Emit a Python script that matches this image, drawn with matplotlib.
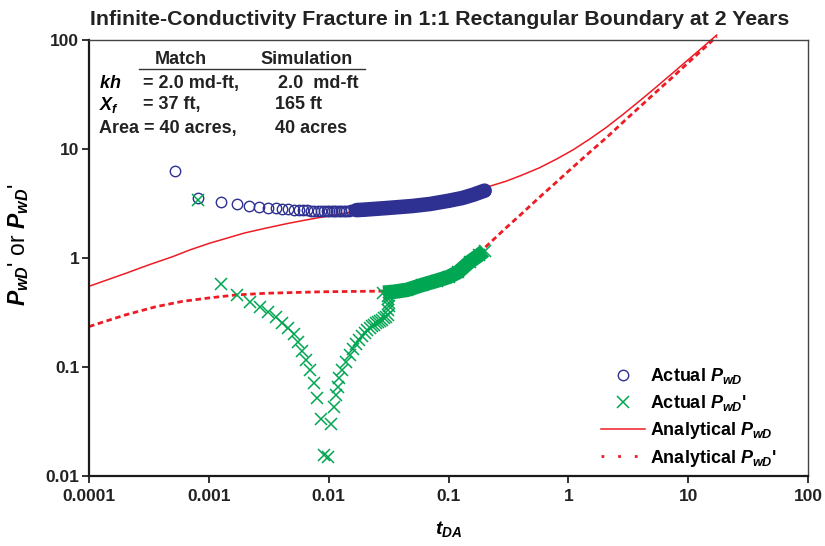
import matplotlib
matplotlib.use("Agg")
import matplotlib.pyplot as plt
from matplotlib.lines import Line2D

plt.rcParams['font.family'] = ['Liberation Sans', 'DejaVu Sans']
plt.rcParams['font.weight'] = 'bold'
plt.rcParams['mathtext.fontset'] = 'custom'
plt.rcParams['mathtext.it'] = 'Liberation Sans:bold:italic'
plt.rcParams['mathtext.rm'] = 'Liberation Sans:bold'
plt.rcParams['mathtext.bf'] = 'Liberation Sans:bold'

NAVY = '#2e3192'
GREEN = '#00a651'
RED = '#ed1c24'

# Actual PwD - individual circles
t_pwd = [5.2e-4, 8.1e-4, 1.27e-3, 1.72e-3, 2.18e-3, 2.64e-3, 3.1e-3, 3.6e-3, 4.1e-3,
         4.6e-3, 5.1e-3, 5.6e-3, 6.1e-3, 6.6e-3, 7.1e-3, 7.6e-3, 8.1e-3, 8.6e-3, 9.1e-3,
         9.6e-3, 0.0101, 0.0106, 0.0111, 0.0116, 0.0121, 0.0127, 0.0133, 0.0140,
         0.0147, 0.0155, 0.0163, 0.0171]
p_pwd = [6.3, 3.55, 3.29, 3.13, 3.02, 2.95, 2.89, 2.85, 2.82,
         2.79, 2.77, 2.75, 2.74, 2.73, 2.72, 2.71, 2.70, 2.70, 2.69,
         2.69, 2.69, 2.69, 2.70, 2.70, 2.70, 2.71, 2.71, 2.72,
         2.72, 2.73, 2.74, 2.75]
# Actual PwD - dense part (merged band)
t_pwd_band = [0.0171, 0.02, 0.03, 0.05, 0.07, 0.1, 0.13, 0.16, 0.2]
p_pwd_band = [2.75, 2.78, 2.87, 3.0, 3.13, 3.35, 3.55, 3.8, 4.15]

# Actual PwD' - individual crosses
t_dpwd = [8.1e-4, 1.26e-3, 1.72e-3, 2.2e-3, 2.65e-3, 3.13e-3, 3.6e-3, 4.1e-3, 4.56e-3,
          5.1e-3, 5.5e-3, 6.0e-3, 6.5e-3, 7.0e-3, 7.5e-3, 8.0e-3, 8.6e-3, 9.1e-3,
          9.88e-3, 0.0105, 0.0110, 0.0116, 0.0120, 0.0123, 0.0130,
          0.014, 0.015, 0.016, 0.017, 0.018, 0.019, 0.020, 0.021, 0.022, 0.023,
          0.024, 0.025, 0.026, 0.027, 0.028, 0.029, 0.030, 0.031,
          0.0315, 0.0318, 0.0318, 0.0315, 0.031]
p_dpwd = [3.4, 0.577, 0.458, 0.393, 0.358, 0.321, 0.286, 0.255, 0.226,
          0.201, 0.171, 0.141, 0.116, 0.094, 0.0718, 0.0523, 0.0333, 0.0156,
          0.0150, 0.030, 0.0433, 0.0553, 0.0659, 0.0787, 0.094,
          0.112, 0.128, 0.145, 0.162, 0.178, 0.193, 0.207, 0.218, 0.228, 0.236,
          0.244, 0.251, 0.258, 0.264, 0.272, 0.28, 0.29, 0.30,
          0.33, 0.36, 0.39, 0.42, 0.45]
# Actual PwD' - dense part (merged band)
t_dpwd_band = [0.0285, 0.035, 0.045, 0.06, 0.08, 0.1, 0.12, 0.15, 0.18, 0.2]
p_dpwd_band = [0.48, 0.49, 0.51, 0.565, 0.62, 0.67, 0.74, 0.92, 1.06, 1.16]

# Analytical PwD
t_an = [1e-4, 2e-4, 3.2e-4, 5e-4, 7e-4, 1e-3, 1.5e-3, 2e-3, 3e-3, 4.6e-3, 7e-3, 0.01,
        0.02, 0.04, 0.07, 0.1, 0.15, 0.22, 0.3, 0.4, 0.57, 0.8, 1.09, 1.5, 2.06, 2.8,
        3.9, 5.3, 7.4, 10.0, 13.0, 15.0, 17.3]
p_an = [0.55, 0.72, 0.87, 1.03, 1.19, 1.36, 1.55, 1.70, 1.88, 2.08, 2.27, 2.43,
        2.78, 3.14, 3.47, 3.73, 4.1, 4.55, 5.05, 5.7, 6.7, 8.1, 9.8, 12.3, 15.7, 20.4,
        27.4, 36.3, 49.6, 66.0, 84.5, 97.0, 111.0]

# Analytical PwD'
t_an_d = [1e-4, 2e-4, 3.6e-4, 6e-4, 1e-3, 1.67e-3, 3e-3, 8.8e-3, 0.0278, 0.04, 0.07,
          0.1, 0.15, 0.205, 0.3, 0.4, 0.573, 0.8, 1.0, 1.5, 2.06, 3.0, 4.0, 5.5, 7.4,
          10.0, 15.0, 17.3]
p_an_d = [0.235, 0.30, 0.357, 0.40, 0.43, 0.458, 0.475, 0.49, 0.497, 0.50, 0.59,
          0.70, 0.93, 1.27, 1.88, 2.5, 3.6, 5.0, 6.25, 9.3, 12.6, 18.5, 24.7, 34.0, 45.5,
          62.0, 93.0, 108.0]

x_ticks = [0.0001, 0.001, 0.01, 0.1, 1, 10, 100]
x_labels = ['0.0001', '0.001', '0.01', '0.1', '1', '10', '100']
y_ticks = [0.01, 0.1, 1, 10, 100]
y_labels = ['0.01', '0.1', '1', '10', '100']

fig = plt.figure(figsize=(8.25, 5.46), dpi=100)
ax = fig.add_axes([0.1079, 0.1282, 0.8715, 0.7985])
ax.set_xscale('log')
ax.set_yscale('log')
ax.set_xlim(1e-4, 100)
ax.set_ylim(0.01, 100)

# analytical curves underneath the data
ax.plot(t_an, p_an, color=RED, lw=1.1, clip_on=False, zorder=2)
ax.plot(t_an_d, p_an_d, color=RED, lw=2.0, linestyle=(0, (2, 1.3)), clip_on=False, zorder=2)

# actual PwD
ax.plot(t_pwd_band, p_pwd_band, color=NAVY, lw=10.5, solid_capstyle='round', zorder=3)
ax.plot(t_pwd, p_pwd, linestyle='none', marker='o', ms=7.5, mfc='none', mec=NAVY, mew=1.0, zorder=3)
ax.plot(t_pwd_band, p_pwd_band, linestyle='none', marker='o', ms=7.5, mfc='none', mec=NAVY, mew=1.0, zorder=3)

# actual PwD'
ax.plot(t_dpwd_band, p_dpwd_band, color=GREEN, lw=10.5, solid_capstyle='butt', zorder=4)
ax.plot(t_dpwd, p_dpwd, linestyle='none', marker='x', ms=8.5, mec=GREEN, mew=1.1, zorder=4)
ax.plot(t_dpwd_band, p_dpwd_band, linestyle='none', marker='x', ms=8.5, mec=GREEN, mew=1.1, zorder=4)

ax.set_xticks(x_ticks)
ax.set_xticklabels(x_labels)
ax.set_yticks(y_ticks)
ax.set_yticklabels(y_labels)
ax.minorticks_off()
ax.tick_params(axis='both', which='major', direction='out', length=5, width=1.3,
               labelsize=12.5, pad=2, colors='#222222')
ax.tick_params(axis='x', pad=4)

for side in ['left', 'bottom']:
    ax.spines[side].set_linewidth(1.6)
    ax.spines[side].set_color('#1a1a1a')
for side in ['top', 'right']:
    ax.spines[side].set_linewidth(1.0)
    ax.spines[side].set_color('#444444')

ax.set_title('Infinite-Conductivity Fracture in 1:1 Rectangular Boundary at 2 Years',
             fontsize=15.3, fontweight='bold', color='#222222', pad=11, x=0.488)
ax.set_xlabel(r'$t_{DA}$', fontsize=14, labelpad=11)
ax.set_ylabel(r"$P_{wD}$' or $P_{wD}$'", fontsize=16.5)
ax.yaxis.set_label_coords(-0.08, 0.53)

# match / simulation table
tf = ax.transAxes
ax.text(0.128, 0.956, 'Match', transform=tf, fontsize=13, ha='center', va='center', color='#222222')
ax.text(0.303, 0.956, 'Simulation', transform=tf, fontsize=13, ha='center', va='center', color='#222222')
ax.plot([0.0695, 0.384], [0.934, 0.934], transform=tf, color='#333333', lw=1.0, clip_on=False)
ax.text(0.0139, 0.901, r'$kh$', transform=tf, fontsize=13, ha='left', va='center')
ax.text(0.0751, 0.901, '= 2.0 md-ft,', transform=tf, fontsize=13, ha='left', va='center', color='#222222')
ax.text(0.263, 0.901, '2.0  md-ft', transform=tf, fontsize=13, ha='left', va='center', color='#222222')
ax.text(0.0139, 0.851, r'$X_f$', transform=tf, fontsize=13, ha='left', va='center')
ax.text(0.0751, 0.851, '= 37 ft,', transform=tf, fontsize=13, ha='left', va='center', color='#222222')
ax.text(0.259, 0.851, '165 ft', transform=tf, fontsize=13, ha='left', va='center', color='#222222')
ax.text(0.0139, 0.796, 'Area = 40 acres,', transform=tf, fontsize=13, ha='left', va='center', color='#222222')
ax.text(0.259, 0.796, '40 acres', transform=tf, fontsize=13, ha='left', va='center', color='#222222')

handles = [
    Line2D([], [], linestyle='none', marker='o', ms=7.5, mfc='none', mec=NAVY, mew=1.0),
    Line2D([], [], linestyle='none', marker='x', ms=8.5, mec=GREEN, mew=1.1),
    Line2D([], [], color=RED, lw=1.1),
    Line2D([], [], color=RED, lw=2.0, linestyle=(0, (1, 5))),
]
labels = [r'Actual $P_{wD}$', r"Actual $P_{wD}$'", r'Analytical $P_{wD}$', r"Analytical $P_{wD}$'"]
ax.legend(handles, labels, loc='lower right', bbox_to_anchor=(0.967, 0.0), frameon=False,
          fontsize=13, handlelength=2.45, handletextpad=0.3, labelspacing=0.38, borderaxespad=0.0)

fig.savefig('out.png', dpi=100)
